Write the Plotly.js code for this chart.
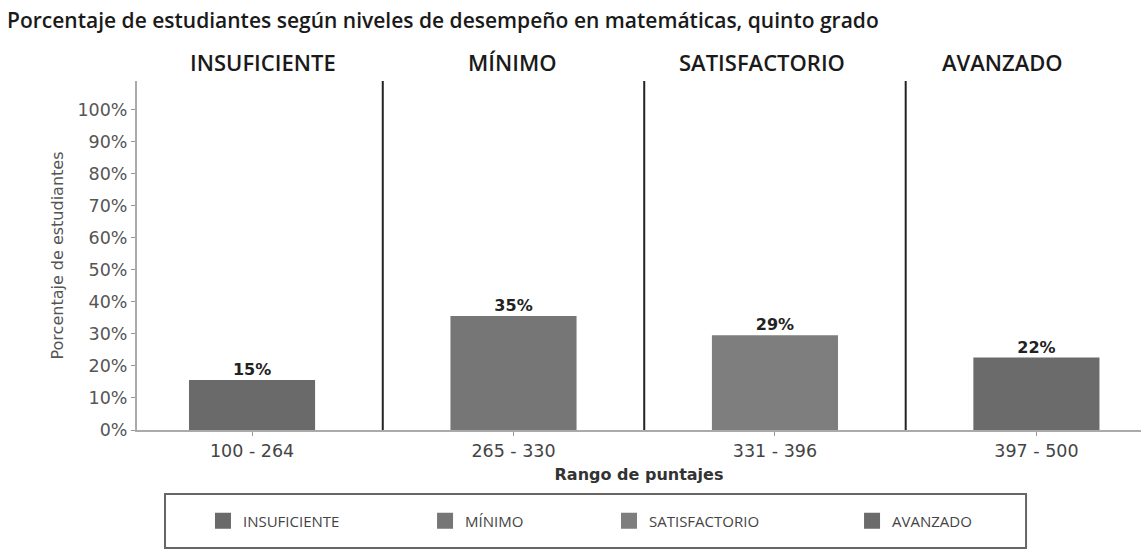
<!DOCTYPE html>
<html>
<head>
<meta charset="utf-8">
<script src="https://cdn.plot.ly/plotly-3.0.1.min.js"></script>
<style>
  html, body { margin: 0; padding: 0; background: #ffffff; }
  #chart { width: 1141px; height: 550px; }
</style>
</head>
<body>
<div id="chart"></div>
<script>
// ---- Data ----
const scoreRanges = ['100 - 264', '265 - 330', '331 - 396', '397 - 500'];
const levels = ['INSUFICIENTE', 'MÍNIMO', 'SATISFACTORIO', 'AVANZADO'];
const percentages = [15, 35, 29, 22];
const yTickValues = [0, 10, 20, 30, 40, 50, 60, 70, 80, 90, 100];
const yTickLabels = ['0%', '10%', '20%', '30%', '40%', '50%', '60%', '70%', '80%', '90%', '100%'];
const chartTitle = 'Porcentaje de estudiantes según niveles de desempeño en matemáticas, quinto grado';
const yTitle = 'Porcentaje de estudiantes';
const xTitle = 'Rango de puntajes';

// ---- Styles ----
const barColors = ['#6a6a6a', '#767676', '#7e7e7e', '#6b6b6b'];
const legendIds = ['legend', 'legend2', 'legend3', 'legend4'];
const legendX = [0.0657, 0.2869, 0.4701, 0.7122];
const sectionLabelX = [0.04, 0.995, 1.95, 2.87];

const traces = levels.map((lvl, i) => ({
  type: 'bar',
  name: lvl,
  legend: legendIds[i],
  x: [scoreRanges[i]],
  y: [percentages[i]],
  width: 0.467,
  marker: { color: barColors[i], line: { color: barColors[i], width: 4 } },
  text: [percentages[i] + '%'],
  textposition: 'outside',
  cliponaxis: false,
  textfont: { family: 'DejaVu Sans', size: 16, color: '#222', weight: 'bold' },
  hovertemplate: '%{x}: %{y}%<extra>' + lvl + '</extra>'
}));

const shapes = [0.5, 1.5, 2.5].map(v => ({
  type: 'line', xref: 'x', yref: 'paper',
  x0: v, x1: v, y0: 0, y1: 1,
  line: { color: '#222', width: 2 }
}));
shapes.push({
  type: 'rect', xref: 'paper', yref: 'paper',
  x0: 0.0279, x1: 0.8855, y0: -0.338, y1: -0.1834,
  line: { color: '#666', width: 2 }, fillcolor: 'rgba(0,0,0,0)'
});

const annotations = levels.map((lvl, i) => ({
  text: lvl, xref: 'x', yref: 'paper',
  x: sectionLabelX[i], y: 1.054,
  xanchor: 'center', yanchor: 'middle', showarrow: false,
  font: { family: 'Open Sans', size: 22, color: '#1a1a1a', weight: 600 }
}));

const layout = {
  width: 1141, height: 550,
  margin: { l: 137, r: 0, t: 81, b: 120 },
  paper_bgcolor: '#ffffff', plot_bgcolor: '#ffffff',
  barmode: 'overlay',
  title: {
    text: chartTitle,
    xref: 'container', yref: 'container',
    x: 7 / 1141, xanchor: 'left',
    y: 1 - 21 / 550, yanchor: 'middle',
    font: { family: 'Open Sans', size: 21, color: '#1a1a1a', weight: 600 }
  },
  xaxis: {
    type: 'category',
    range: [-0.44, 3.40],
    showgrid: false, zeroline: false,
    showline: true, linecolor: '#aaa', linewidth: 2,
    ticks: 'outside', ticklen: 4, tickcolor: '#999',
    tickfont: { family: 'DejaVu Sans', size: 17.5, color: '#444' },
    title: { text: xTitle, standoff: 9,
      font: { family: 'DejaVu Sans', size: 16, color: '#333', weight: 'bold' } }
  },
  yaxis: {
    range: [0, 109],
    tickmode: 'array',
    tickvals: yTickValues,
    ticktext: yTickLabels,
    showgrid: false, zeroline: false,
    showline: true, linecolor: '#aaa', linewidth: 2,
    ticks: 'outside', ticklen: 4, tickcolor: '#999',
    tickfont: { family: 'DejaVu Sans', size: 17.5, color: '#555' },
    title: { text: yTitle, standoff: 10,
      font: { family: 'DejaVu Sans', size: 16, color: '#555' } }
  },
  shapes: shapes,
  annotations: annotations,
  showlegend: true
};
legendIds.forEach((id, i) => {
  layout[id] = {
    x: legendX[i], xanchor: 'left', xref: 'paper',
    y: -0.2607, yanchor: 'middle', yref: 'paper',
    orientation: 'h', bgcolor: 'rgba(0,0,0,0)', borderwidth: 0,
    font: { family: 'Open Sans', size: 15, color: '#444' }
  };
});

Plotly.newPlot('chart', traces, layout, { displayModeBar: false, responsive: false });
</script>
</body>
</html>
